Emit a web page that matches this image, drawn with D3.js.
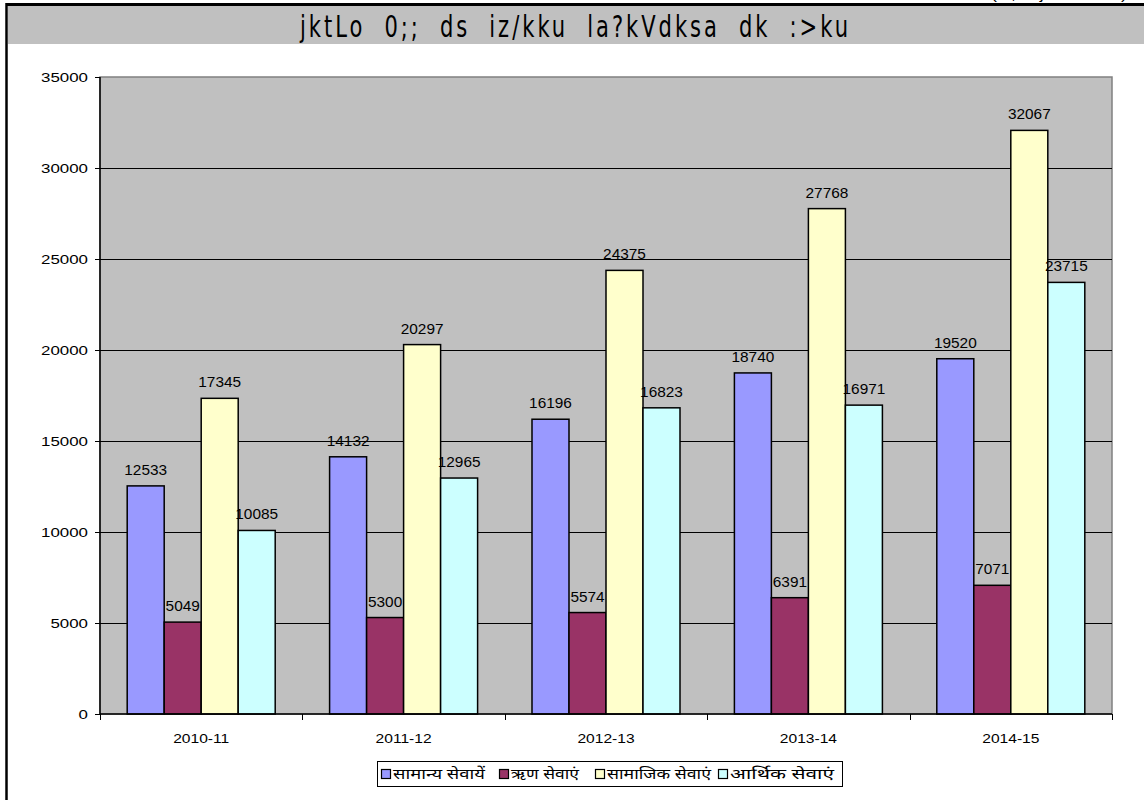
<!DOCTYPE html>
<html>
<head>
<meta charset="utf-8">
<script src="https://cdn.jsdelivr.net/npm/d3@7"></script>
<style>
  html, body { margin: 0; padding: 0; background: #ffffff; }
  svg { display: block; }
</style>
</head>
<body>
<svg id="chart" width="1144" height="800"></svg>
<script>
// Revenue expenditure by major components (Rs. crore)
const years = ["2010-11", "2011-12", "2012-13", "2013-14", "2014-15"];
const seriesNames = ["सामान्य सेवायें", "ऋण सेवाएं", "सामाजिक सेवाएं", "आर्थिक सेवाएं"];
const generalServices = [12533, 14132, 16196, 18740, 19520];
const debtServices = [5049, 5300, 5574, 6391, 7071];
const socialServices = [17345, 20297, 24375, 27768, 32067];
const economicServices = [10085, 12965, 16823, 16971, 23715];
const yTicks = [0, 5000, 10000, 15000, 20000, 25000, 30000, 35000];
const titleText = "jktLo 0;; ds iz/kku la?kVdksa dk :>ku";
const unitText = "(#i;s djksM+ esa)";

const seriesColors = ["#9999ff", "#993366", "#ffffcc", "#ccffff"];
const seriesValues = [generalServices, debtServices, socialServices, economicServices];

const SANS = "'Liberation Sans', Arial, sans-serif";
const NARROW = "'DejaVu Sans Condensed', 'DejaVu Sans', sans-serif";
const DEVA = "'Noto Sans Devanagari', Mangal, 'Lohit Devanagari', FreeSans, sans-serif";

const svg = d3.select("#chart");
const W = 1144, H = 800;
const plot = { left: 100, right: 1112, top: 77, bottom: 714 };

// text drawn slightly wide, as in the original export
function wideText(sel, x, y, sx, size, anchor) {
  return sel.append("text")
    .attr("transform", `translate(${x},${y}) scale(${sx},1)`)
    .attr("text-anchor", anchor || "middle")
    .style("font-family", SANS)
    .style("font-size", size + "px")
    .attr("fill", "#000");
}

// frame and title band
svg.append("rect").attr("x", 8).attr("y", 6).attr("width", W - 8).attr("height", 38).attr("fill", "#c0c0c0");
svg.append("line").attr("x1", 6.5).attr("x2", W).attr("y1", 4.5).attr("y2", 4.5)
  .attr("stroke", "#000").attr("stroke-width", 3);
svg.append("line").attr("x1", 6.5).attr("x2", 6.5).attr("y1", 3).attr("y2", H)
  .attr("stroke", "#000").attr("stroke-width", 2.5);

svg.append("text").attr("x", 991).attr("y", -1)
  .style("font-family", SANS).style("font-size", "14px")
  .attr("textLength", 136).attr("lengthAdjust", "spacingAndGlyphs")
  .text(unitText);

// title: narrow tall glyphs, loosely spaced
svg.append("text")
  .attr("transform", "translate(300,37) scale(0.78,1)")
  .style("font-family", NARROW)
  .style("font-stretch", "condensed")
  .style("font-size", "30px")
  .style("word-spacing", "12px")
  .attr("textLength", 548 / 0.78).attr("lengthAdjust", "spacing")
  .text(titleText);

// scales
const x0 = d3.scaleBand().domain(years).range([plot.left, plot.right]).paddingInner(0).paddingOuter(0);
const x1 = d3.scaleBand().domain(d3.range(seriesNames.length))
  .range([0, x0.bandwidth()]).paddingOuter(0.735).paddingInner(0);
const y = d3.scaleLinear().domain([0, 35000]).range([plot.bottom, plot.top]);

// plot area
svg.append("rect")
  .attr("x", plot.left).attr("y", plot.top)
  .attr("width", plot.right - plot.left).attr("height", plot.bottom - plot.top)
  .attr("fill", "#c0c0c0").attr("stroke", "#808080").attr("stroke-width", 1.5);

// gridlines
svg.append("g").selectAll("line")
  .data(yTicks.filter(d => d > 0 && d < 35000))
  .join("line")
  .attr("x1", plot.left).attr("x2", plot.right)
  .attr("y1", d => Math.round(y(d)) + 0.5).attr("y2", d => Math.round(y(d)) + 0.5)
  .attr("stroke", "#000").attr("stroke-width", 1);

// bars
const groups = svg.append("g").selectAll("g")
  .data(years)
  .join("g")
  .attr("transform", d => `translate(${x0(d)},0)`);

const cells = (d, i) => seriesValues.map((vals, s) => ({ s, v: vals[i] }));

groups.selectAll("rect")
  .data(cells)
  .join("rect")
  .attr("x", d => x1(d.s))
  .attr("y", d => y(d.v))
  .attr("width", x1.bandwidth())
  .attr("height", d => plot.bottom - y(d.v))
  .attr("fill", d => seriesColors[d.s])
  .attr("stroke", "#000").attr("stroke-width", 1.5);

groups.each(function (yr, i) {
  const g = d3.select(this);
  cells(yr, i).forEach(d => {
    wideText(g, x1(d.s) + x1.bandwidth() / 2, y(d.v) - 11, 1.1, 14).text(d.v);
  });
});

// y axis
const gy = svg.append("g");
gy.append("line").attr("x1", plot.left).attr("x2", plot.left)
  .attr("y1", plot.top).attr("y2", plot.bottom + 1)
  .attr("stroke", "#000").attr("stroke-width", 1.5);
gy.selectAll("line.tk").data(yTicks).join("line").attr("class", "tk")
  .attr("x1", plot.left - 5).attr("x2", plot.left)
  .attr("y1", d => Math.round(y(d)) + 0.5).attr("y2", d => Math.round(y(d)) + 0.5)
  .attr("stroke", "#000");
yTicks.forEach(t => {
  wideText(gy, 88, y(t) + 4.5, 1.3, 13, "end").text(t);
});

// x axis: category boundaries as ticks
const gx = svg.append("g");
gx.append("line").attr("x1", plot.left).attr("x2", plot.right)
  .attr("y1", plot.bottom).attr("y2", plot.bottom)
  .attr("stroke", "#000").attr("stroke-width", 1.5);
const boundaries = years.map(d => x0(d)).concat([plot.right]);
gx.selectAll("line.tk").data(boundaries).join("line").attr("class", "tk")
  .attr("x1", d => Math.round(d) + 0.5).attr("x2", d => Math.round(d) + 0.5)
  .attr("y1", plot.bottom).attr("y2", plot.bottom + 6)
  .attr("stroke", "#000");
years.forEach(yr => {
  wideText(gx, x0(yr) + x0.bandwidth() / 2, 743, 1.2, 13).text(yr);
});

// legend
const legend = svg.append("g");
legend.append("rect").attr("x", 377.5).attr("y", 761.5).attr("width", 465).attr("height", 25)
  .attr("fill", "#fff").attr("stroke", "#000").attr("stroke-width", 1);
const legendX = [381, 499, 595, 718];
const legendW = [92, 68, 104, 104];
const legendItems = legend.selectAll("g.item").data(seriesNames).join("g").attr("class", "item")
  .attr("transform", (d, i) => `translate(${legendX[i]},0)`);
legendItems.append("rect").attr("x", 0.5).attr("y", 769.5).attr("width", 9).attr("height", 9)
  .attr("fill", (d, i) => seriesColors[i]).attr("stroke", "#000").attr("stroke-width", 1.2);
legendItems.append("text").attr("x", 12).attr("y", 779)
  .style("font-family", DEVA).style("font-size", "15px")
  .attr("textLength", (d, i) => legendW[i]).attr("lengthAdjust", "spacingAndGlyphs")
  .text(d => d);
</script>
</body>
</html>
